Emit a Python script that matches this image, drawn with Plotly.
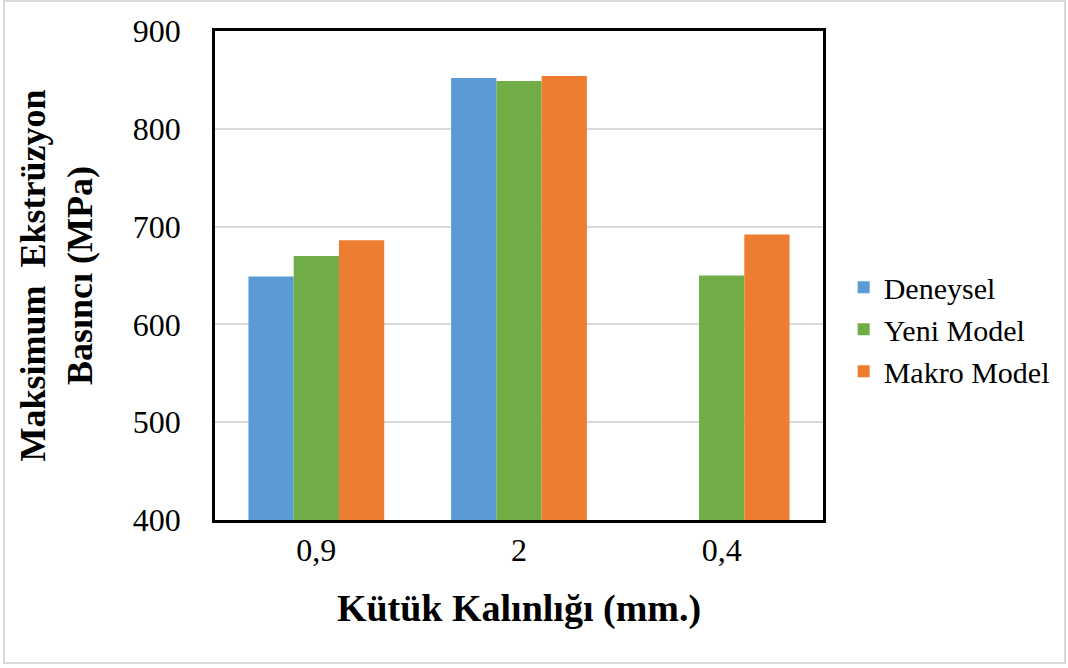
import plotly.graph_objects as go

categories = ["0,9", "2", "0,4"]
deneysel = [649, 852, 0]
yeni_model = [670, 849, 650]
makro_model = [686, 854, 692]

series = [
    ("Deneysel", deneysel, "#5B9BD5"),
    ("Yeni Model", yeni_model, "#70AD47"),
    ("Makro Model", makro_model, "#ED7D31"),
]

font_family = "Liberation Serif, Times New Roman, serif"

fig = go.Figure()
for name, vals, color in series:
    fig.add_trace(go.Bar(x=categories, y=vals, name=name, marker_color=color,
                         marker_line_width=0))

# outer light gray frame around the whole chart
fig.add_shape(type="rect", xref="paper", yref="paper",
              x0=(4 - 215) / 608, x1=(1065 - 215) / 608,
              y0=(520 - 663) / 489, y1=(520 - 1) / 489,
              line=dict(color="#d9d9d9", width=2), layer="below")

fig.update_layout(
    width=1068, height=668,
    margin=dict(l=215, r=245, t=31, b=148),
    paper_bgcolor="white", plot_bgcolor="white",
    barmode="group", bargap=0.33, bargroupgap=0,
    font=dict(family=font_family, color="black"),
    legend=dict(x=1.034, y=0.39, xanchor="left", yanchor="middle",
                font=dict(size=30, family=font_family), tracegroupgap=0),
    showlegend=True,
)

fig.update_xaxes(
    type="category", showline=True, linecolor="black", linewidth=2.5, mirror=True,
    tickfont=dict(size=32), ticks="", ticklabelstandoff=0,
    title=dict(text="<b>Kütük Kalınlığı (mm.)</b>", font=dict(size=38), standoff=28),
)
fig.update_yaxes(
    range=[400, 900], dtick=100, showline=True, linecolor="black", linewidth=2.5,
    mirror=True, showgrid=True, gridcolor="#d9d9d9", gridwidth=2,
    tickfont=dict(size=32), ticks="", ticklabelstandoff=25, zeroline=False,
    title=dict(text="<b>Maksimum  Ekstrüzyon<br>Basıncı (MPa)</b>", font=dict(size=36), standoff=30),
)

fig.write_html("out.html", config={"displayModeBar": False},
               post_script="document.body.style.margin='0';")
